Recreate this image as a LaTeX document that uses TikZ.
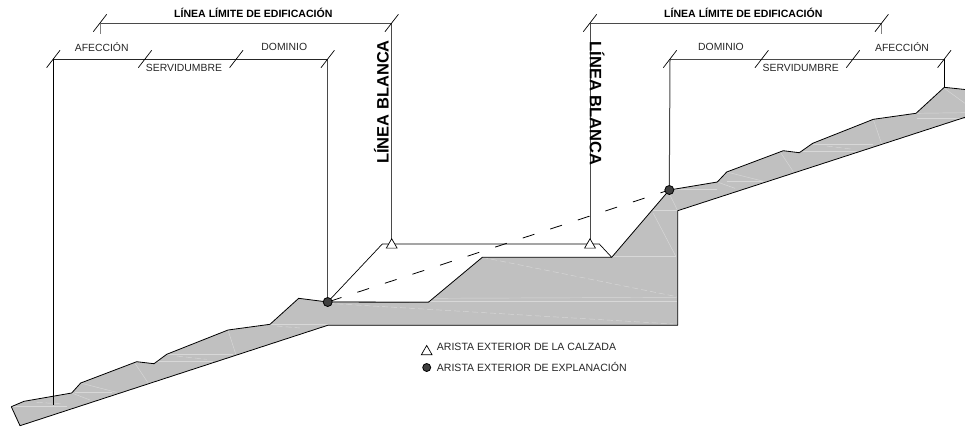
\documentclass[tikz,border=0pt]{standalone}
\usepackage{fontspec}
\setmainfont{Liberation Sans}
\definecolor{ground}{HTML}{C0C0C0}
\definecolor{faint}{HTML}{D8D8D8}
\definecolor{dim}{HTML}{4A4A4A}
\tikzset{
  outline/.style={black,line width=0.8pt,line join=round},
  dimline/.style={dim,line width=1pt},
  leader/.style={black,line width=0.8pt},
  ticked/.style={black,line width=0.7pt},
  fline/.style={faint,line width=0.45pt},
  fdash/.style={faint,line width=0.45pt,dash pattern=on 6pt off 3pt},
  lab/.style={inner sep=0pt,font=\fontsize{10.4}{12}\selectfont,text=black!85},
  ttl/.style={inner sep=0pt,font=\fontsize{10.55}{12}\selectfont\bfseries},
  lb/.style={inner sep=0pt,font=\fontsize{16.5}{18}\selectfont\bfseries},
  leg/.style={inner sep=0pt,anchor=west,font=\fontsize{10.55}{12}\selectfont,text=black!85},
  tick/.pic={\draw[ticked] (-6.7,8.7) -- (6.7,-8.7);},
  tri/.style={draw=black,fill=white,line width=0.7pt,regular polygon,regular polygon sides=3,inner sep=0pt,minimum size=12.5pt},
  dot/.style={circle,draw=black,fill=black!75,line width=0.8pt,inner sep=0pt,minimum size=9pt}
}
\usetikzlibrary{shapes.geometric}
\begin{document}
\begin{tikzpicture}[x=1pt,y=-1pt]
\useasboundingbox (0,0) rectangle (965,426);
% key points
\coordinate (expL) at (327.7,302);
\coordinate (expR) at (669.3,190);
\coordinate (roadA) at (382.3,244);
\coordinate (roadB) at (599.3,244);
\coordinate (bench) at (611.7,257.3);
\coordinate (T1a) at (100,23); \coordinate (T1b) at (391.7,23);
\coordinate (T2a) at (590,23); \coordinate (T2b) at (881.7,23);
\coordinate (D1a) at (53.3,59); \coordinate (D1b) at (145,59); \coordinate (D1c) at (236.3,59); \coordinate (D1d) at (327.7,59);
\coordinate (D2a) at (670,59); \coordinate (D2b) at (761.7,59); \coordinate (D2c) at (853,59); \coordinate (D2d) at (944.3,59);
\coordinate (peak) at (944.3,87.3);
\coordinate (footL) at (53.3,405);
% ground
\fill[ground] (11.3,406.7) -- (24,401.3) -- (71.7,393) -- (80.7,383) -- (136.7,361.7) -- (154,363.7) -- (166.7,354.3) -- (228,330) -- (270,324.3) -- (298.7,298.3) -- (327.7,302) -- (428.3,302.3) -- (482.3,257.3) -- (611.7,257.3) -- (669.3,190) -- (717.3,182) -- (726.7,172) -- (783.3,150.7) -- (799.3,152.7) -- (812.7,143.3) -- (873.3,119.3) -- (916,113.3) -- (944.3,87.3) -- (965,89.5) -- (965,117.3) -- (677.7,210.7) -- (677.7,325.3) -- (327.7,325.3) -- (20,425.7) -- cycle;
% faint internal lines
\begin{scope}[x=0.33333pt,y=-0.33333pt,shift={(0,690)}]
\draw[fline] (40,528) -- (200,528);
\draw[fdash] (110,517) -- (190,522);
\draw[fline] (215,489) -- (270,510);
\draw[fline] (225,487) -- (335,487);
\draw[fline] (245,460) -- (350,487);
\draw[fline] (405,400) -- (445,460);
\draw[fline] (684,300) -- (708,375);
\draw[fline] (500,373) -- (700,373);
\draw[fdash] (530,378) -- (620,388);
\draw[fline] (470,393) -- (640,393);
\draw[fline] (810,283) -- (985,283);
\draw[fdash] (830,288) -- (900,294);
\end{scope}
\begin{scope}[x=0.33333pt,y=-0.33333pt,shift={(960,510)}]
\draw[fdash] (487,262) -- (1070,380);
\draw[fline] (340,385) -- (1070,382);
\draw[fline] (25,393) -- (1070,393);
\draw[fdash] (25,400) -- (1060,462);
\draw[fline] (875,260) -- (1068,260);
\draw[fline] (1000,122) -- (1073,122);
\draw[fline] (1050,75) -- (1073,122);
\draw[fline] (1000,130) -- (1068,260);
\end{scope}
\begin{scope}[x=0.33333pt,y=-0.33333pt,shift={(1980,210)}]
\draw[fline] (172,336) -- (225,355);
\draw[fline] (200,306) -- (315,335);
\draw[fline] (35,358) -- (170,358);
\draw[fline] (200,333) -- (310,333);
\draw[fline] (360,245) -- (400,305);
\draw[fline] (640,148) -- (665,222);
\draw[fline] (460,222) -- (640,222);
\draw[fdash] (500,228) -- (580,238);
\draw[fline] (430,243) -- (590,243);
\draw[fline] (768,130) -- (915,128);
\draw[fline] (770,145) -- (915,145);
\draw[fline] (853,55) -- (915,100);
\end{scope}
% outline
\draw[outline] (11.3,406.7) -- (24,401.3) -- (71.7,393) -- (80.7,383) -- (136.7,361.7) -- (154,363.7) -- (166.7,354.3) -- (228,330) -- (270,324.3) -- (298.7,298.3) -- (expL) -- (428.3,302.3) -- (482.3,257.3) -- (bench) -- (expR) -- (717.3,182) -- (726.7,172) -- (783.3,150.7) -- (799.3,152.7) -- (812.7,143.3) -- (873.3,119.3) -- (916,113.3) -- (peak) -- (965,89.5);
\draw[outline] (965,117.3) -- (677.7,210.7) -- (677.7,325.3) -- (327.7,325.3) -- (20,425.7) -- (11.3,406.7);
% road
\draw[leader,line width=0.7pt] (expL) -- (roadA) -- (roadB) -- (bench);
\draw[black,line width=0.8pt,dash pattern=on 12.3pt off 16.7pt,dash phase=26.8pt] (expL) -- (expR);
% dimension lines
\draw[dimline] (T1a) -- (T1b);
\draw[dimline] (T2a) -- (T2b);
\draw[dimline,black!85] (D1a) -- (D1d);
\draw[dimline] (D2a) -- (D2d);
\draw[dimline,gray] (T1a) -- ++(0,11);
\draw[dimline,gray] (T2b) -- ++(0,11);
\draw[leader] (D1a) -- (footL);
\draw[dimline] (D1d) -- (expL);
\draw[dimline] (T1b) -- (391.7,240);
\draw[dimline] (T2a) -- (590,240);
\draw[dimline] (D2a) -- (expR);
\draw[leader] (D2d) -- (peak);
% ticks
\foreach \c in {T1a,T1b,T2a,T2b,D1a,D1b,D1c,D1d,D2a,D2b,D2c,D2d} \pic at (\c) {tick};
% markers
\node[tri] (triL) at (391.7,245) {};
\node[tri] (triR) at (590,245) {};
\node[dot] (dotL) at (expL) {};
\node[dot] (dotR) at (expR) {};
% labels
\node[ttl] (t1) at (253.3,13) {LÍNEA LÍMITE DE EDIFICACIÓN};
\node[ttl] (t2) at (743.3,13) {LÍNEA LÍMITE DE EDIFICACIÓN};
\node[lab] (a1) at (101.7,47) {AFECCIÓN};
\node[lab] (s1) at (184,68) {SERVIDUMBRE};
\node[lab] (d1) at (284.3,47) {DOMINIO};
\node[lab] (d2) at (721,47) {DOMINIO};
\node[lab] (s2) at (800.7,68) {SERVIDUMBRE};
\node[lab] (a2) at (902,47) {AFECCIÓN};
\node[lb,rotate=90] (b1) at (381.5,102) {LÍNEA BLANCA};
\node[lb,rotate=-90] (b2) at (597,103.3) {LÍNEA BLANCA};
% legend
\node[tri] (legT) at (426.7,351.7) {};
\node[dot,minimum size=8pt] (legD) at (426.7,367.5) {};
\node[leg] (lt1) at (436.7,347.3) {ARISTA EXTERIOR DE LA CALZADA};
\node[leg] (lt2) at (436.7,366.7) {ARISTA EXTERIOR DE EXPLANACIÓN};
\end{tikzpicture}
\end{document}
